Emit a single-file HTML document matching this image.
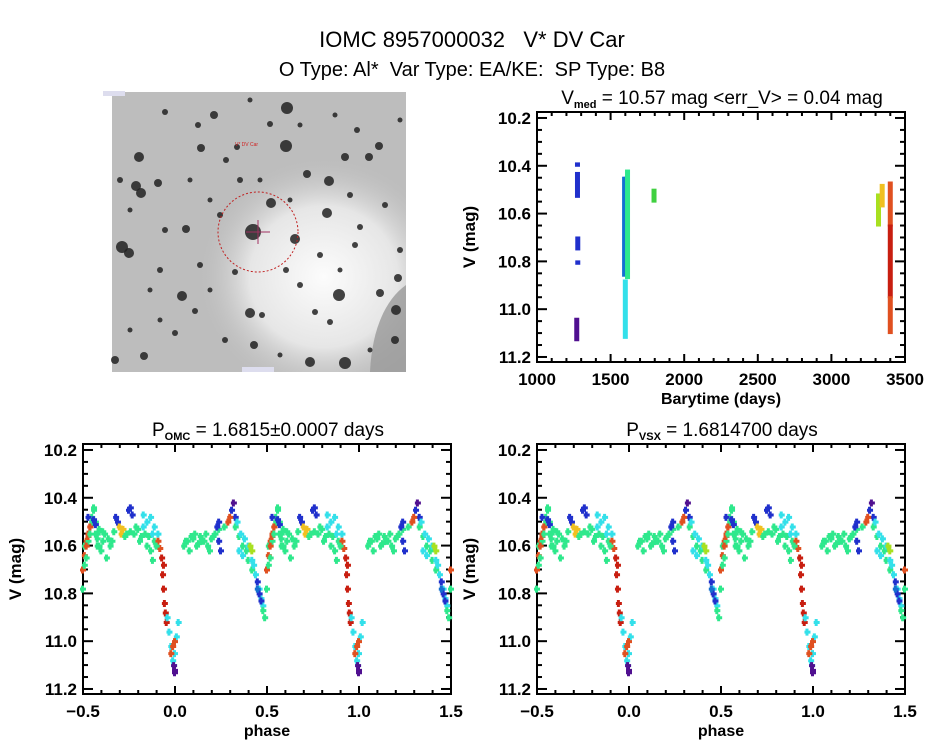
<!DOCTYPE html>
<html><head><meta charset="utf-8"><style>
html,body{margin:0;padding:0;background:#fff;width:944px;height:747px;overflow:hidden}
svg{display:block;font-family:"Liberation Sans",sans-serif}
</style></head><body>
<svg id="s" width="944" height="747" viewBox="0 0 944 747">
<text x="472" y="47" font-size="22" text-anchor="middle">IOMC 8957000032 &#160; V* DV Car</text>
<text x="472" y="76" font-size="20" text-anchor="middle">O Type: Al* &#160;Var Type: EA/KE: &#160;SP Type: B8</text>
<g id="img"></g>
<g id="p1"></g>
<g id="p2"></g>
<g id="p3"></g>
</svg>
<script>
const NS="http://www.w3.org/2000/svg";
function mk(p,t,a){const e=document.createElementNS(NS,t);for(const k in a)e.setAttribute(k,a[k]);p.appendChild(e);return e;}
const C={g:'#2ee88c',c:'#33e0ea',b:'#2030cc',p:'#501090',r:'#c81e10',o:'#e05020',y:'#f0c020',l:'#a8e020',d:'#1570d0',m:'#40d040'};

// time series data
const tsTime=[1275,1275,1277,1277,1270,1595,1600,1605,1615,1795,3320,3345,3400,3400,3400];
const tsMagTop=[10.43,10.39,10.70,10.80,11.04,10.45,10.88,10.45,10.42,10.50,10.52,10.48,10.47,10.65,10.95];
const tsMagBot=[10.53,10.40,10.75,10.81,11.13,10.86,11.12,10.80,10.87,10.55,10.65,10.57,10.65,10.95,11.10];
const tsColor=['b','b','b','b','p','d','c','d','g','m','l','y','o','r','o'];

// phase data (folded, phase in [-0.5,0.5))
const phPhase=[-0.47,-0.45,-0.44,-0.43,-0.42,-0.41,-0.40,-0.38,-0.37,-0.36,-0.35,-0.22,-0.20,-0.19,-0.18,-0.16,-0.15,-0.13,-0.12,-0.11,
-0.17,-0.15,-0.13,-0.11,-0.09,-0.48,-0.47,-0.46,-0.09,-0.08,
-0.07,-0.065,-0.06,-0.055,-0.05,-0.045,
-0.04,-0.03,-0.02,-0.01,0.0,0.01,0.02,-0.005,-0.02,-0.01,0.0,0.0,-0.005,0.0,
-0.44,-0.43,-0.32,-0.31,-0.25,-0.24,-0.23,-0.30,-0.29,-0.28,
0.05,0.07,0.08,0.10,0.12,0.14,0.15,0.17,0.18,0.20,0.22,0.24,
0.23,0.24,0.24,0.25,0.31,0.32,0.33,0.29,0.30,
0.33,0.35,0.37,0.39,0.40,0.42,0.38,0.40,0.42,0.44,0.46,0.47,0.48,0.45,0.46,0.47,0.41,0.42,0.48,0.49,
0.50,0.51,0.52,0.53,0.54,0.50,0.52,0.55,0.56,0.57,0.53,-0.39,-0.34,-0.21,0.09,0.13,0.19,0.36,0.34,
-0.46,-0.39,-0.33,-0.27,-0.26,-0.24,-0.14,-0.10,-0.06,0.06,0.11,0.16,0.21,0.27,0.35,0.37,0.43,0.45,0.51,0.58,0.59,-0.49,-0.42,-0.17,-0.12];
const phMag=[10.58,10.50,10.45,10.55,10.60,10.53,10.62,10.55,10.65,10.57,10.60,10.55,10.53,10.58,10.56,10.55,10.60,10.62,10.66,10.58,
10.47,10.50,10.48,10.52,10.55,10.60,10.56,10.52,10.58,10.61,
10.65,10.72,10.78,10.84,10.88,10.92,
10.90,10.96,11.02,11.08,11.05,10.98,10.92,11.10,11.05,11.02,11.00,11.12,11.10,11.13,
10.49,10.51,10.48,10.50,10.45,10.44,10.47,10.52,10.55,10.53,
10.60,10.58,10.62,10.57,10.60,10.56,10.58,10.55,10.60,10.57,10.55,10.53,
10.52,10.50,10.58,10.62,10.45,10.42,10.48,10.50,10.48,
10.52,10.56,10.60,10.62,10.66,10.70,10.57,10.60,10.66,10.72,10.78,10.82,10.85,10.75,10.80,10.83,10.60,10.62,10.87,10.90,
10.70,10.64,10.58,10.55,10.52,10.78,10.65,10.48,10.44,10.50,10.48,10.54,10.58,10.52,10.56,10.59,10.62,10.55,10.50,
10.55,10.58,10.54,10.56,10.55,10.54,10.56,10.60,10.68,10.58,10.55,10.58,10.56,10.52,10.62,10.64,10.68,10.78,10.60,10.55,10.60,10.68,10.57,10.52,10.55];
const phColor=['g','g','g','g','g','g','g','g','g','g','g','g','g','g','g','g','g','g','g','g',
'c','c','c','c','c','o','o','o','o','o',
'r','r','r','r','r','r',
'c','c','c','c','c','c','c','c','o','o','o','p','p','p',
'b','b','b','b','b','b','b','y','y','y',
'g','g','g','g','g','g','g','g','g','g','g','g',
'b','b','b','b','b','p','b','o','o',
'g','g','g','g','g','g','c','c','c','c','c','c','c','b','b','b','l','l','g','g',
'o','o','o','o','o','g','g','g','g','g','b','g','g','g','g','g','g','c','c',
'g','g','g','g','g','g','g','g','r','g','g','g','g','g','c','c','c','d','g','g','g','g','g','c','c'];

function axes(g,L,T,R,B,x0,x1,y0,y1,xmaj,xmin,xlab,ymaj,ymin,ylab,xtitle){
  const X=v=>L+(v-x0)/(x1-x0)*(R-L), Y=v=>T+(v-y0)/(y1-y0)*(B-T);
  mk(g,'rect',{x:L,y:T,width:R-L,height:B-T,fill:'none',stroke:'#000','stroke-width':2});
  for(let v=Math.ceil(x0/xmin-1e-6)*xmin;v<=x1+1e-9;v+=xmin){
    const isM=Math.abs(v/xmaj-Math.round(v/xmaj))<1e-6, h=isM?8:4, x=X(v);
    mk(g,'line',{x1:x,x2:x,y1:B,y2:B-h,stroke:'#000','stroke-width':2});
    mk(g,'line',{x1:x,x2:x,y1:T,y2:T+h,stroke:'#000','stroke-width':2});
  }
  for(let v=Math.ceil(y0/ymin-1e-6)*ymin;v<=y1+1e-9;v+=ymin){
    const isM=Math.abs(v/ymaj-Math.round(v/ymaj))<1e-6, h=isM?10:5, y=Y(v);
    mk(g,'line',{x1:L,x2:L+h,y1:y,y2:y,stroke:'#000','stroke-width':2});
    mk(g,'line',{x1:R,x2:R-h,y1:y,y2:y,stroke:'#000','stroke-width':2});
  }
  xlab.forEach(v=>{const t=mk(g,'text',{x:X(v),y:B+23,'font-size':17,'font-weight':'bold','text-anchor':'middle'});t.textContent=(v<0?'\u2212':'')+Math.abs(v).toFixed(xmaj<1?1:0);
    
    });
  ylab.forEach(v=>{const t=mk(g,'text',{x:L-6,y:Y(v)+6,'font-size':17,'font-weight':'bold','text-anchor':'end'});t.textContent=v.toFixed(1);
    
    });
  const yt=mk(g,'text',{x:L-62,y:(T+B)/2,'font-size':17,'font-weight':'bold','text-anchor':'middle',transform:`rotate(-90 ${L-62} ${(T+B)/2})`});yt.textContent='V (mag)';
  
  
  const xt=mk(g,'text',{x:(L+R)/2,y:B+42,'font-size':16,'font-weight':'bold','text-anchor':'middle'});xt.textContent=xtitle;
  
  
  return {X,Y};
}
function title(g,x,y,main,sub,rest){
  const t=mk(g,'text',{x:x,y:y,'font-size':19,'text-anchor':'middle'});
  
  
  t.appendChild(document.createTextNode(main));
  const s=mk(t,'tspan',{'font-size':11,'font-weight':'bold',dy:4});s.textContent=sub;
  const r=mk(t,'tspan',{dy:-4});r.textContent=rest;
}
const ylab=[10.2,10.4,10.6,10.8,11.0,11.2];
// time series
{const g=document.getElementById('p1');
 const a=axes(g,537,112,905,362,1000,3500,10.175,11.221,500,100,[1000,1500,2000,2500,3000,3500],0.2,0.05,ylab,'Barytime (days)');
 title(g,722,104,'V','med',' = 10.57 mag <err_V> = 0.04 mag');
 tsTime.forEach((t,i)=>{const y1=a.Y(tsMagTop[i]),y2=a.Y(tsMagBot[i]);
  const r=mk(g,'rect',{x:a.X(t)-2.5,y:y1-1,width:5,height:Math.max(2,y2-y1+2),fill:C[tsColor[i]]});
  
  });
}
function phasePlot(id,L,ttl,sub,rest){
  const g=document.getElementById(id);
  const a=axes(g,L,444,L+368,694,-0.5,1.5,10.175,11.221,0.5,0.1,[-0.5,0,0.5,1.0,1.5],0.2,0.05,ylab,'phase');
  title(g,L+185,436,ttl,sub,rest);
  [-1,0,1,2].forEach(k=>phPhase.forEach((p,i)=>{const ph=p+k; if(ph<-0.5||ph>1.5)return;
    const x=a.X(ph), y=a.Y(phMag[i]);
    const r=mk(g,'path',{d:`M${x-2},${y-3}h3v2h2v3h-2v2h-3v-2h-1v-3h1z`,fill:C[phColor[i]]});
    
    }));
}
phasePlot('p2',83,'P','OMC',' = 1.6815\u00b10.0007 days');
phasePlot('p3',537,'P','VSX',' = 1.6814700 days');

// image
{const g=document.getElementById('img');
 const defs=mk(g,'defs',{});
 const rg=mk(defs,'radialGradient',{id:'gl',cx:'0.72',cy:'0.66',r:'0.42'});
 mk(rg,'stop',{offset:'0','stop-color':'#fcfcfc'});mk(rg,'stop',{offset:'0.6','stop-color':'#e6e6e6'});mk(rg,'stop',{offset:'1','stop-color':'#c4c4c4','stop-opacity':0});
 mk(g,'rect',{x:112,y:92,width:294,height:280,fill:'#bdbdbd'});
 mk(g,'rect',{x:112,y:92,width:294,height:280,fill:'url(#gl)'});
 mk(g,'path',{d:'M406,285 C385,300 372,330 370,372 L406,372 Z',fill:'#9a9a9a',opacity:0.8});
 const stars=[[253,232,8],[295,239,5],[287,108,6],[214,115,4],[286,146,6],[201,148,4],[139,157,5],[158,183,4],[136,186,5],[141,193,5],[186,229,4],[122,247,6],[129,253,5],[226,160,3],[307,174,4],[271,203,5],[329,181,5],[345,157,4],[357,130,3],[369,157,4],[379,146,4],[355,245,3],[327,213,5],[380,293,4],[398,278,4],[339,295,6],[396,310,5],[182,296,5],[195,311,3],[250,313,5],[262,315,3],[315,312,3],[144,356,4],[310,362,5],[345,363,6],[254,345,4],[175,333,3],[360,227,3],[320,255,3],[200,265,3],[237,147,3],[270,124,3],[165,112,3],[120,180,3],[115,360,4],[395,340,4],[330,322,3],[225,340,3],[286,270,3],[235,272,3],[240,180,3],[350,195,3],[300,285,3],[160,270,3],[220,215,3],[385,205,3],[165,230,3],[198,125,3],[130,210,2.5],[150,290,2.5],[210,200,2.5],[290,200,2.5],[340,270,2.5],[260,180,2.5],[190,180,2.5],[370,350,2.5],[280,355,2.5],[130,330,2.5],[300,125,2.5],[335,115,2.5],[250,100,2.5],[400,120,2.5],[400,250,3],[210,290,2.5],[160,320,2.5]];
 stars.forEach(s=>{const c=mk(g,'circle',{cx:s[0],cy:s[1],r:s[2],fill:'#222',opacity:0.85});
   
   });
 mk(g,'circle',{cx:258,cy:232,r:40,fill:'none',stroke:'#c02020','stroke-width':1,'stroke-dasharray':'2 2'});
 mk(g,'line',{x1:258,x2:258,y1:220,y2:244,stroke:'#a03060','stroke-width':1});
 mk(g,'line',{x1:246,x2:270,y1:232,y2:232,stroke:'#a03060','stroke-width':1});
 const t=mk(g,'text',{x:235,y:146,'font-size':5,fill:'#d02020'});t.textContent='V* DV Car';
 mk(g,'rect',{x:103,y:91,width:22,height:5,fill:'#dde'});
 mk(g,'rect',{x:242,y:367,width:32,height:5,fill:'#dde'});
}
</script>
</body></html>
